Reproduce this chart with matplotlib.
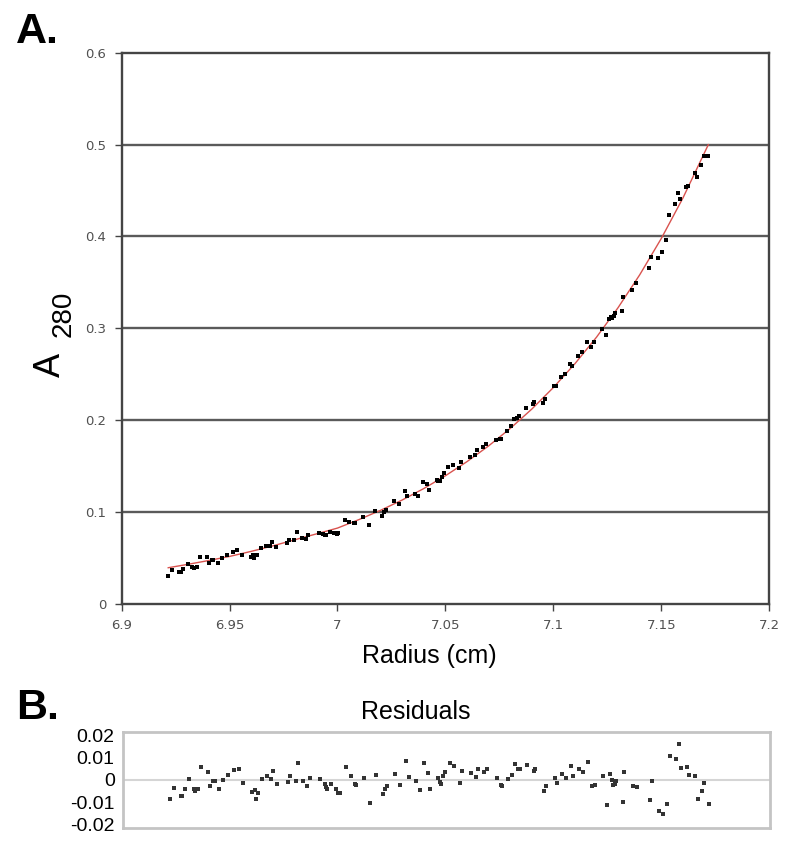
import matplotlib
matplotlib.use('Agg')
import matplotlib.pyplot as plt
import numpy as np

# radius positions of the scans (cm)
radius = [6.9216, 6.9235, 6.9267, 6.9273, 6.9286, 6.9306, 6.9328, 6.9335, 6.9348, 6.9363,
          6.9394, 6.9405, 6.9417, 6.9425, 6.9445, 6.9464, 6.9487, 6.9515, 6.9536, 6.9556,
          6.9598, 6.9610, 6.9615, 6.9626, 6.9646, 6.9667, 6.9687, 6.9695, 6.9715, 6.9765,
          6.9775, 6.9800, 6.9811, 6.9834, 6.9854, 6.9865, 6.9915, 6.9935, 6.9942, 6.9947,
          6.9965, 6.9986, 6.9997, 7.0004, 7.0035, 7.0055, 7.0077, 7.0081, 7.0116, 7.0146,
          7.0174, 7.0205, 7.0216, 7.0225, 7.0262, 7.0285, 7.0313, 7.0324, 7.0357, 7.0375,
          7.0395, 7.0414, 7.0422, 7.0460, 7.0468, 7.0473, 7.0483, 7.0494, 7.0514, 7.0534,
          7.0563, 7.0573, 7.0614, 7.0635, 7.0645, 7.0673, 7.0687, 7.0733, 7.0753, 7.0757,
          7.0784, 7.0804, 7.0816, 7.0831, 7.0839, 7.0874, 7.0905, 7.0911, 7.0951, 7.0962,
          7.1004, 7.1013, 7.1036, 7.1055, 7.1075, 7.1086, 7.1114, 7.1132, 7.1155, 7.1175,
          7.1189, 7.1225, 7.1245, 7.1256, 7.1268, 7.1274, 7.1279, 7.1284, 7.1318, 7.1325,
          7.1364, 7.1384, 7.1444, 7.1453, 7.1484, 7.1503, 7.1523, 7.1534, 7.1565, 7.1576,
          7.1585, 7.1614, 7.1623, 7.1654, 7.1665, 7.1685, 7.1696, 7.1716]

# measured absorbance at 280 nm
a280 = [0.0303, 0.0363, 0.0340, 0.0338, 0.0375, 0.0430, 0.0393, 0.0391, 0.0402, 0.0510,
        0.0502, 0.0440, 0.0472, 0.0475, 0.0445, 0.0495, 0.0528, 0.0565, 0.0582, 0.0531,
        0.0511, 0.0530, 0.0491, 0.0527, 0.0601, 0.0624, 0.0625, 0.0666, 0.0621, 0.0660,
        0.0693, 0.0687, 0.0779, 0.0710, 0.0699, 0.0743, 0.0770, 0.0760, 0.0752, 0.0748,
        0.0783, 0.0773, 0.0761, 0.0768, 0.0914, 0.0891, 0.0876, 0.0875, 0.0941, 0.0857,
        0.1012, 0.0958, 0.0993, 0.1016, 0.1113, 0.1089, 0.1228, 0.1170, 0.1193, 0.1176,
        0.1321, 0.1302, 0.1240, 0.1343, 0.1338, 0.1334, 0.1383, 0.1420, 0.1487, 0.1505,
        0.1474, 0.1543, 0.1601, 0.1616, 0.1671, 0.1706, 0.1742, 0.1785, 0.1791, 0.1794,
        0.1880, 0.1936, 0.2012, 0.2021, 0.2038, 0.2129, 0.2169, 0.2194, 0.2186, 0.2232,
        0.2370, 0.2372, 0.2470, 0.2500, 0.2608, 0.2591, 0.2700, 0.2739, 0.2851, 0.2798,
        0.2845, 0.2995, 0.2929, 0.3105, 0.3117, 0.3113, 0.3137, 0.3167, 0.3185, 0.3344,
        0.3419, 0.3489, 0.3658, 0.3780, 0.3768, 0.3835, 0.3966, 0.4229, 0.4353, 0.4470,
        0.4404, 0.4542, 0.4549, 0.4691, 0.4642, 0.4778, 0.4873, 0.4879]

# residuals of the fit
resid = [-0.0087, -0.0035, -0.0071, -0.0075, -0.0043, 0.0003, -0.0043, -0.0048, -0.0043, 0.0059,
         0.0038, -0.0029, -0.0003, -0.0003, -0.0043, -0.0002, 0.0021, 0.0044, 0.0049, -0.0013,
         -0.0056, -0.0044, -0.0086, -0.0057, 0.0005, 0.0016, 0.0005, 0.0041, -0.0017, -0.0010,
         0.0016, -0.0006, 0.0079, -0.0005, -0.0029, 0.0008, 0.0003, -0.0020, -0.0032, -0.0040,
         -0.0016, -0.0040, -0.0059, -0.0059, 0.0060, 0.0019, -0.0016, -0.0021, 0.0011, -0.0103,
         0.0024, -0.0063, -0.0040, -0.0027, 0.0029, -0.0021, 0.0084, 0.0013, -0.0005, -0.0044,
         0.0075, 0.0030, -0.0042, 0.0008, -0.0008, -0.0019, 0.0016, 0.0037, 0.0075, 0.0063,
         -0.0013, 0.0041, 0.0032, 0.0013, 0.0051, 0.0037, 0.0048, 0.0008, -0.0024, -0.0029,
         0.0005, 0.0021, 0.0073, 0.0051, 0.0051, 0.0068, 0.0040, 0.0051, -0.0048, -0.0029,
         0.0008, -0.0013, 0.0027, 0.0008, 0.0063, 0.0016, 0.0048, 0.0037, 0.0083, -0.0029,
         -0.0024, 0.0016, -0.0114, 0.0027, 0.0000, -0.0024, -0.0016, -0.0003, -0.0100, 0.0035,
         -0.0029, -0.0032, -0.0092, -0.0005, -0.0143, -0.0154, -0.0108, 0.0108, 0.0095, 0.0162,
         0.0056, 0.0060, 0.0024, 0.0016, -0.0087, -0.0052, -0.0013, -0.0111]

# fitted curve
fit_r = [6.9216, 6.93, 6.94, 6.95, 6.96, 6.97, 6.98, 6.99, 7.00, 7.01, 7.02, 7.03, 7.04,
         7.05, 7.06, 7.07, 7.08, 7.09, 7.10, 7.11, 7.12, 7.13, 7.14, 7.15, 7.16, 7.1718]
fit_a = [0.0390, 0.0424, 0.0467, 0.0513, 0.0568, 0.0628, 0.0693, 0.0757, 0.0822, 0.0915,
         0.1016, 0.1128, 0.1253, 0.1392, 0.1546, 0.1717, 0.1907, 0.2118, 0.2353, 0.2613,
         0.2902, 0.3224, 0.3581, 0.3977, 0.4417, 0.5000]

xticks = [6.9, 6.95, 7.0, 7.05, 7.1, 7.15, 7.2]
xlabels = ['6.9', '6.95', '7', '7.05', '7.1', '7.15', '7.2']
yticks = [0, 0.1, 0.2, 0.3, 0.4, 0.5, 0.6]
ylabels = ['0', '0.1', '0.2', '0.3', '0.4', '0.5', '0.6']
rticks = [0.02, 0.01, 0, -0.01, -0.02]
rlabels = ['0.02', '0.01', '0', '-0.01', '-0.02']

sans = 'Liberation Sans'

fig = plt.figure(figsize=(8, 8.68), dpi=100)

# panel A
ax = fig.add_axes([0.152, 0.3047, 0.8095, 0.6344])
for y in yticks[1:-1]:
    ax.axhline(y, color='#5a5a5a', lw=1.7, zorder=1)
ax.plot(fit_r, fit_a, color='#d9534f', lw=1.0, zorder=2)
ax.plot(radius, a280, 's', color='black', ms=2.4, mew=0, zorder=3)
ax.set_xlim(6.9, 7.2)
ax.set_ylim(0, 0.6)
ax.set_xticks(xticks)
ax.set_xticklabels(xlabels)
ax.set_yticks(yticks)
ax.set_yticklabels(ylabels)
ax.tick_params(axis='both', labelsize=9.5, labelcolor='#505050', color='#444444',
               length=5, width=1, direction='out', pad=6)
for s in ax.spines.values():
    s.set_color('#444444')
    s.set_linewidth(1.7)

fig.text(0.537, 0.2442, 'Radius (cm)', ha='center', va='center', fontsize=18, family=sans)
fig.text(0.0625, 0.579, 'A', rotation=90, ha='center', va='center', fontsize=26, family=sans)
fig.text(0.079, 0.638, '280', rotation=90, ha='center', va='center', fontsize=20, family=sans)
fig.text(0.02, 0.9637, 'A.', ha='left', va='center', fontsize=31, fontweight='bold', family=sans)

# panel B: residuals
rx = fig.add_axes([0.1538, 0.0461, 0.8087, 0.1106])
rx.axhline(0, color='#d5d5d5', lw=1.5, zorder=1)
rx.plot(radius, resid, 's', color='#333333', ms=2.4, mew=0, zorder=2)
rx.set_xlim(6.9, 7.2)
rx.set_ylim(-0.0218, 0.0218)
rx.set_xticks([])
rx.set_yticks(rticks)
rx.set_yticklabels(rlabels)
rx.tick_params(axis='y', length=0, pad=6, labelsize=14)
for lab in rx.get_yticklabels():
    lab.set_family(sans)
for s in rx.spines.values():
    s.set_color('#c4c4c4')
    s.set_linewidth(2)

fig.text(0.52, 0.18, 'Residuals', ha='center', va='center', fontsize=18, family=sans)
fig.text(0.02, 0.184, 'B.', ha='left', va='center', fontsize=31, fontweight='bold', family=sans)

fig.savefig('out.png', dpi=100)
